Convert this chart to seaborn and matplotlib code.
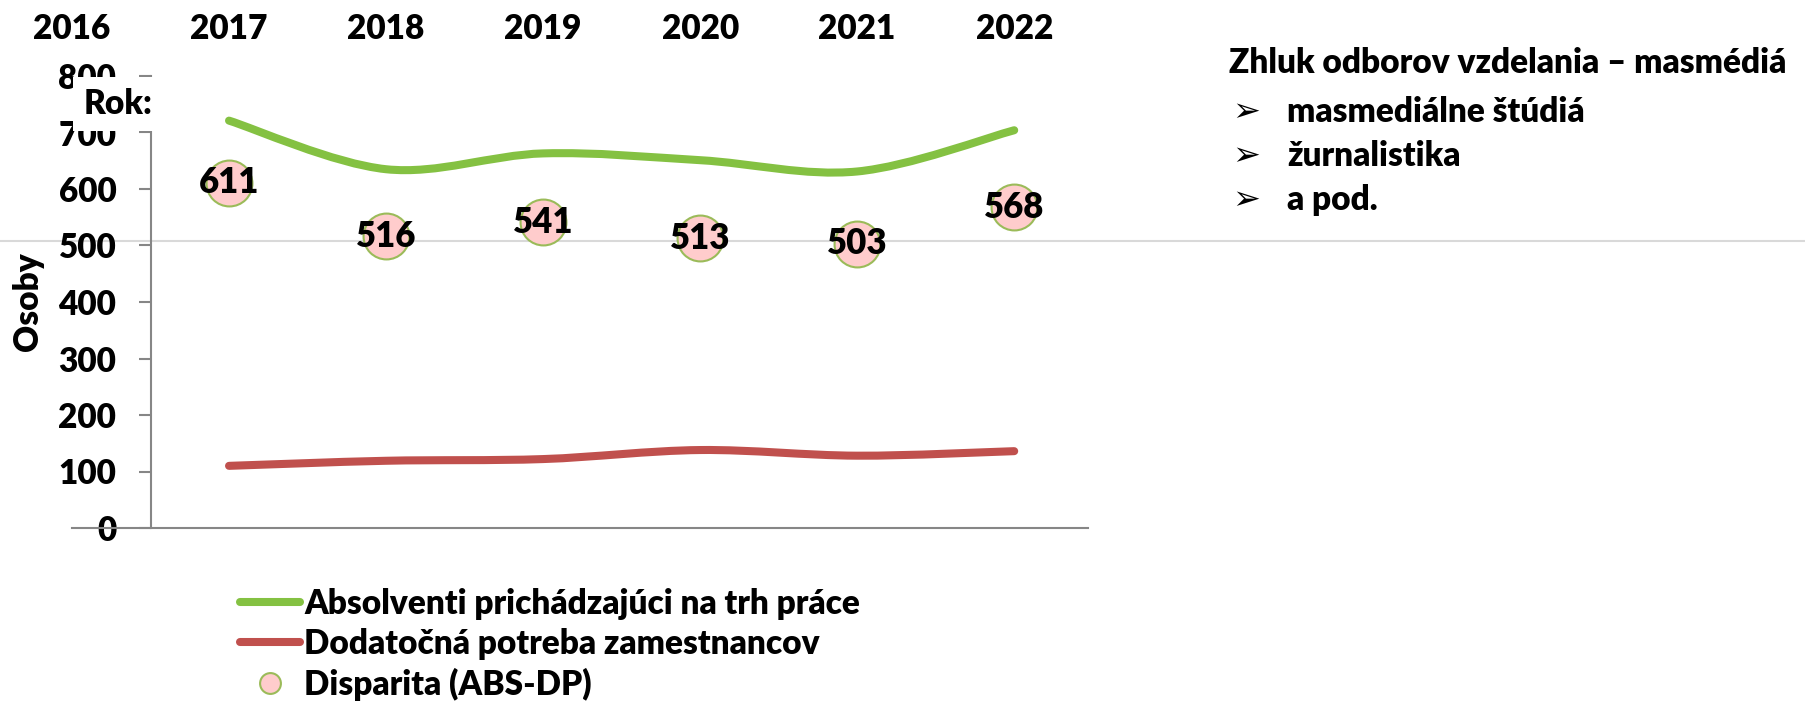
import numpy as np
import pandas as pd
import matplotlib
matplotlib.use('Agg')
import matplotlib.pyplot as plt
import seaborn as sns
from matplotlib.path import Path
from matplotlib.patches import PathPatch
from matplotlib.lines import Line2D

# ---------------- data ----------------
years = [2017, 2018, 2019, 2020, 2021, 2022]
top_year_labels = ['2016', '2017', '2018', '2019', '2020', '2021', '2022']
absolventi = [721, 635, 663, 651, 631, 704]
dodatocna = [110, 119, 122, 138, 128, 136]
disparita = [611, 516, 541, 513, 503, 568]
y_ticks = [0, 100, 200, 300, 400, 500, 600, 700, 800]
series_names = ['Absolventi prichádzajúci na trh práce',
                'Dodatočná potreba zamestnancov',
                'Disparita (ABS-DP)']
title_text = 'Zhluk odborov vzdelania – masmédiá'
bullets = ['masmediálne štúdiá', 'žurnalistika', 'a pod.']

GREEN = '#84C142'
RED = '#C0504D'
PINK = '#FFCCCC'
EDGE = '#9BBB59'
AXC = '#868686'
FS = 24
WT = 'heavy'

sns.set_theme(style='white')
plt.rcParams['font.family'] = ['Lato', 'DejaVu Sans']
plt.rcParams['font.weight'] = WT
plt.rcParams['text.color'] = 'black'
plt.rcParams['axes.labelcolor'] = 'black'
plt.rcParams['xtick.color'] = 'black'
plt.rcParams['ytick.color'] = 'black'

W, H = 1805, 708
fig = plt.figure(figsize=(W / 100, H / 100), dpi=100)
ax = fig.add_axes([72 / W, 1 - 528 / H, (1088 - 72) / W, (528 - 76) / H])
ax.set_facecolor('none')


def smooth_path(xs, ys):
    pts = np.column_stack([xs, ys]).astype(float)
    verts = [pts[0]]
    codes = [Path.MOVETO]
    n = len(pts)
    for i in range(n - 1):
        p0 = pts[i - 1] if i > 0 else pts[i]
        p1 = pts[i]
        p2 = pts[i + 1]
        p3 = pts[i + 2] if i + 2 < n else pts[i + 1]
        c1 = p1 + (p2 - p0) / 6.0
        c2 = p2 - (p3 - p1) / 6.0
        verts += [c1, c2, p2]
        codes += [Path.CURVE4] * 3
    return Path(verts, codes)


for vals, col in [(absolventi, GREEN), (dodatocna, RED)]:
    patch = PathPatch(smooth_path(years, vals), fill=False, edgecolor=col,
                      lw=5.8, capstyle='round', joinstyle='round', zorder=2)
    ax.add_patch(patch)

df = pd.DataFrame({'Rok': years, 'Disparita': disparita})
sns.scatterplot(data=df, x='Rok', y='Disparita', s=1090, color=PINK,
                edgecolor=EDGE, linewidth=1.5, ax=ax, zorder=3, legend=False)
for x, v in zip(years, disparita):
    ax.text(x, v, str(v), ha='center', va='center', fontsize=FS + 1,
            fontweight=WT, color='black', zorder=4)

ax.set_xlim(2016, 2022.47)
ax.set_ylim(0, 800)
ax.set_xticks(range(2016, 2023))
ax.set_xticklabels(top_year_labels)
ax.xaxis.tick_top()
ax.tick_params(axis='x', length=0, pad=22, labelsize=FS, labelcolor='black')
ax.set_xlabel('')
ax.set_ylabel('')

ax.set_yticks(y_ticks)
ax.tick_params(axis='y', length=8.6, width=1.5, color=AXC, pad=16, labelsize=FS,
               labelcolor='black', left=True)

for s in ['top', 'right']:
    ax.spines[s].set_visible(False)
ax.spines['left'].set_position(('data', 2016.5))
ax.spines['left'].set_color(AXC)
ax.spines['left'].set_linewidth(1.5)
ax.spines['bottom'].set_color(AXC)
ax.spines['bottom'].set_linewidth(1.5)

# background separator line across the slide
fig.add_artist(Line2D([0, 1], [1 - 241 / H] * 2, color='#D9D9D9', lw=1.5,
                      transform=fig.transFigure, zorder=-1))

fig.text(28 / W, 1 - 302 / H, 'Osoby', rotation=90, ha='center', va='center',
         fontsize=FS, fontweight=WT, color='black')
fig.text(153 / W, 1 - 104 / H, 'Rok:', ha='right', va='center', fontsize=FS,
         fontweight=WT, zorder=10, color='black',
         bbox=dict(facecolor='white', edgecolor='none', boxstyle='square,pad=0.32'))

handles = [Line2D([], [], color=GREEN, lw=5.8, solid_capstyle='round'),
           Line2D([], [], color=RED, lw=5.8, solid_capstyle='round'),
           Line2D([], [], marker='o', ls='', markersize=15, markerfacecolor=PINK,
                  markeredgecolor=EDGE, markeredgewidth=1.5)]
leg = fig.legend(handles, series_names, loc='upper left',
                 bbox_to_anchor=(240 / W, 1 - 588 / H), frameon=False,
                 prop=dict(size=FS, weight=WT), handlelength=1.8,
                 handletextpad=0.12, labelspacing=0.24, borderpad=0,
                 borderaxespad=0)
for t in leg.get_texts():
    t.set_color('black')

fig.text(1229 / W, 1 - 63 / H, title_text, ha='left', va='center', fontsize=FS,
         fontweight=WT, color='black')
for i, b in enumerate(bullets):
    yy = 1 - (112 + 44 * i) / H
    fig.text(1232 / W, yy, '➢', ha='left', va='center', fontsize=24,
             family='DejaVu Sans', fontweight='normal', color='black')
    fig.text(1287 / W, yy, b, ha='left', va='center', fontsize=FS,
             fontweight=WT, color='black')

fig.savefig('out.png', dpi=100)
